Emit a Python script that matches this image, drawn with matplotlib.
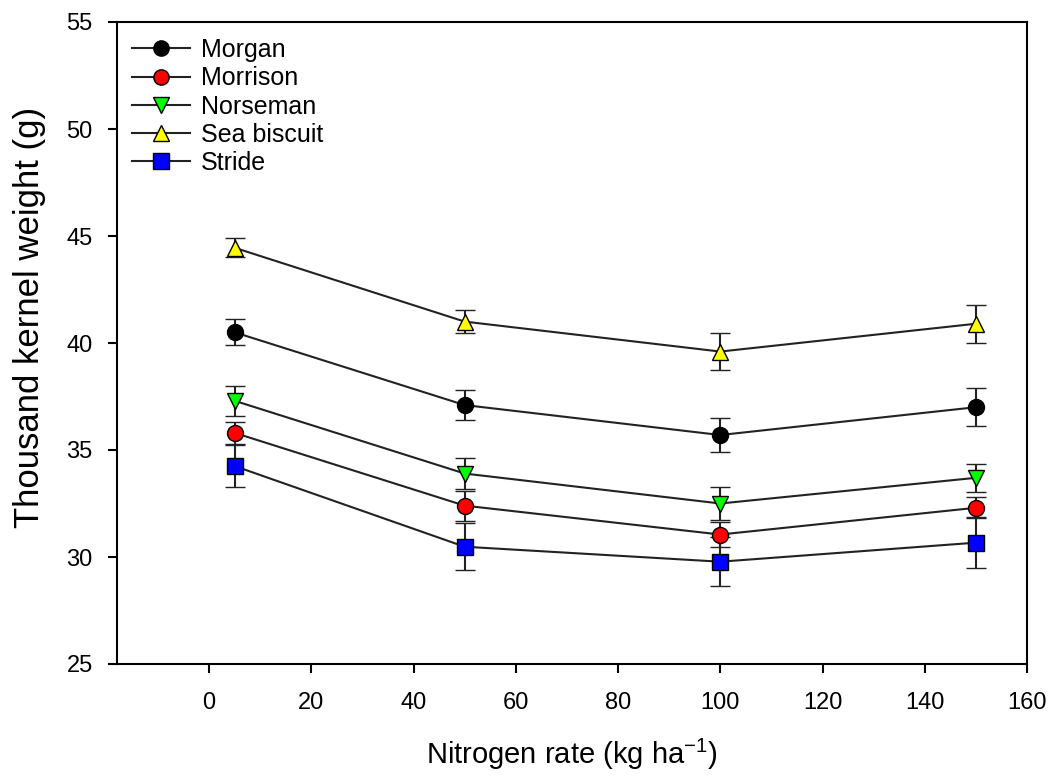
import matplotlib
matplotlib.use("Agg")
import matplotlib.pyplot as plt
from matplotlib.lines import Line2D

plt.rcParams['font.family'] = ['Liberation Sans', 'DejaVu Sans']
plt.rcParams['mathtext.fontset'] = 'custom'
plt.rcParams['mathtext.rm'] = 'Liberation Sans'

nitrogen = [5, 50, 100, 150]
cultivars = ["Morgan", "Morrison", "Norseman", "Sea biscuit", "Stride"]
morgan = [40.5, 37.1, 35.7, 37.0]
morgan_err = [0.6, 0.7, 0.8, 0.88]
morrison = [35.8, 32.4, 31.05, 32.3]
morrison_err = [0.5, 0.7, 0.6, 0.5]
norseman = [37.3, 33.9, 32.5, 33.7]
norseman_err = [0.7, 0.74, 0.75, 0.65]
seabiscuit = [44.45, 41.0, 39.6, 40.9]
seabiscuit_err = [0.45, 0.53, 0.86, 0.89]
stride = [34.25, 30.48, 29.78, 30.67]
stride_err = [1.0, 1.1, 1.14, 1.2]

series = [morgan, morrison, norseman, seabiscuit, stride]
errors = [morgan_err, morrison_err, norseman_err, seabiscuit_err, stride_err]
colors = ["#000000", "#FF0000", "#00FF00", "#FFFF00", "#0000FF"]
markers = ["o", "o", "v", "^", "s"]

fig = plt.figure(figsize=(10.52, 7.78), dpi=100)
ax = fig.add_axes([117/1052, 1-664/778, (1027-117)/1052, (664-22)/778])

handles = []
for name, ys, es, c, m in zip(cultivars, series, errors, colors, markers):
    ax.errorbar(nitrogen, ys, yerr=es, color="#222222", lw=1.5,
                marker=m, markersize=11.5, markerfacecolor=c,
                markeredgecolor="black", markeredgewidth=1.0,
                ecolor="#222222", elinewidth=1.5, capsize=7, capthick=1.5)
    handles.append(Line2D([], [], color="#222222", lw=1.5, marker=m,
                          markersize=11, markerfacecolor=c,
                          markeredgecolor="black", markeredgewidth=1.0,
                          label=name))

ax.set_xlim(-18, 160)
ax.set_ylim(25, 55)
ax.set_xticks(range(0, 161, 20))
ax.set_yticks(range(25, 56, 5))
for s in ax.spines.values():
    s.set_linewidth(1.5)
ax.tick_params(axis='both', direction='out', width=1.5, length=6.5, labelsize=17)
ax.tick_params(axis='x', pad=14)
ax.tick_params(axis='y', pad=11)

ax.set_xlabel(r"Nitrogen rate (kg ha$^{\mathregular{-1}}$)", fontsize=21, labelpad=16)
ax.set_ylabel("Thousand kernel weight (g)", fontsize=25)
ax.yaxis.set_label_coords(-0.078, 0.54)

ax.legend(handles=handles, loc='upper left', bbox_to_anchor=(0.017, 0.975),
          frameon=False, fontsize=18, handlelength=2.3, handletextpad=0.45,
          labelspacing=0.17, borderaxespad=0, borderpad=0)

fig.savefig("out.png", dpi=100)
